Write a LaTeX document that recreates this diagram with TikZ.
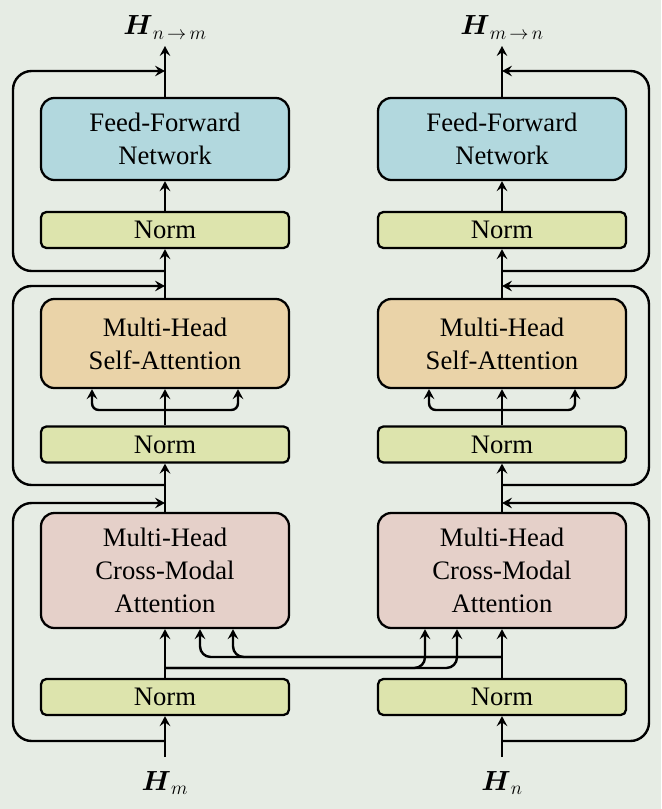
\documentclass[tikz,border=0pt]{standalone}
\usepackage{amsmath}
\usepackage{fontspec}
\setmainfont{Liberation Serif}
\usetikzlibrary{arrows.meta,calc}

\definecolor{bgcol}{RGB}{230,236,228}
\definecolor{ffncol}{RGB}{178,216,222}
\definecolor{sacol}{RGB}{234,211,168}
\definecolor{cmcol}{RGB}{229,208,201}
\definecolor{normcol}{RGB}{221,228,173}

\tikzset{every picture/.style={line width=0.75pt}}
\tikzset{
  blockbox/.style={draw, line width=1.7pt, rounded corners=10pt, minimum width=186pt,
    align=center, inner sep=0pt, font=\fontsize{20}{24.75}\selectfont},
  ffnbox/.style={blockbox, fill=ffncol, minimum height=61.5pt},
  sabox/.style={blockbox, fill=sacol, minimum height=66.75pt},
  cmbox/.style={blockbox, fill=cmcol, minimum height=86.25pt},
  normbox/.style={blockbox, fill=normcol, rounded corners=4pt, minimum height=27pt},
  hlabel/.style={anchor=base, inner sep=0pt, font=\fontsize{20}{24}\selectfont},
  flow/.style={line width=1.8pt, -{Stealth[length=7.5pt,width=8pt,inset=2.8pt]}},
}

\begin{document}
\begin{tikzpicture}[x=0.75pt,y=0.75pt,yscale=-1,xscale=1]
\useasboundingbox (0,0) rectangle (661,809);
\fill [bgcol] (0,0) rectangle (661,809);

%Rounded Rect -- left column
\draw (165,697) node [normbox] (normL1) {Norm};
\draw (165,570.5) node [cmbox] (cmaL) {Multi-Head\\Cross-Modal\\Attention};
\draw (165,444.5) node [normbox] (normL2) {Norm};
\draw (165,343.5) node [sabox] (mhsaL) {Multi-Head\\Self-Attention};
\draw (165,230) node [normbox] (normL3) {Norm};
\draw (165,139) node [ffnbox] (ffnL) {Feed-Forward\\Network};
%Rounded Rect -- right column
\draw (502,697) node [normbox] (normR1) {Norm};
\draw (502,570.5) node [cmbox] (cmaR) {Multi-Head\\Cross-Modal\\Attention};
\draw (502,444.5) node [normbox] (normR2) {Norm};
\draw (502,343.5) node [sabox] (mhsaR) {Multi-Head\\Self-Attention};
\draw (502,230) node [normbox] (normR3) {Norm};
\draw (502,139) node [ffnbox] (ffnR) {Feed-Forward\\Network};

% Text Node
\draw (165,35) node [hlabel] (outLbl) {$\boldsymbol{H}_{n\,\rightarrow\,m}$};
% Text Node
\draw (502,35) node [hlabel] (outRbl) {$\boldsymbol{H}_{m\,\rightarrow\,n}$};
% Text Node
\draw (165,790) node [hlabel] (inLbl) {$\boldsymbol{H}_{m}$};
% Text Node
\draw (502,790) node [hlabel] (inRbl) {$\boldsymbol{H}_{n}$};

%Points on the main lines
\coordinate (inL) at (165,757);   \coordinate (inR) at (502,757);
\coordinate (outL) at (165,46);   \coordinate (outR) at (502,46);
\coordinate (edgeL) at (13,0);    \coordinate (edgeR) at (649,0);
\coordinate (brL1) at (165,741);  \coordinate (mrgL1) at (165,503);
\coordinate (brL2) at (165,485);  \coordinate (mrgL2) at (165,286);
\coordinate (brL3) at (165,271);  \coordinate (mrgL3) at (165,71);
\coordinate (brR1) at (502,741);  \coordinate (mrgR1) at (502,503);
\coordinate (brR2) at (502,485);  \coordinate (mrgR2) at (502,286);
\coordinate (brR3) at (502,271);  \coordinate (mrgR3) at (502,71);
\coordinate (splL) at (165,410);  \coordinate (splR) at (502,410);
\coordinate (crL) at (165,668);   \coordinate (crR) at (502,657);

%Straight Lines -- left column
\draw [flow] (inL) -- (normL1.south);
\draw [flow] (normL1.north) -- (cmaL.south);
\draw [flow] (cmaL.north) -- (normL2.south);
\draw [flow] (normL2.north) -- (mhsaL.south);
\draw [flow] (mhsaL.north) -- (normL3.south);
\draw [flow] (normL3.north) -- (ffnL.south);
\draw [flow] (ffnL.north) -- (outL);
%Straight Lines -- right column
\draw [flow] (inR) -- (normR1.south);
\draw [flow] (normR1.north) -- (cmaR.south);
\draw [flow] (cmaR.north) -- (normR2.south);
\draw [flow] (normR2.north) -- (mhsaR.south);
\draw [flow] (mhsaR.north) -- (normR3.south);
\draw [flow] (normR3.north) -- (ffnR.south);
\draw [flow] (ffnR.north) -- (outR);

%Residual loops
\draw [flow, rounded corners=14] (brL1) -| (edgeL |- mrgL1) -- (mrgL1);
\draw [flow, rounded corners=14] (brL2) -| (edgeL |- mrgL2) -- (mrgL2);
\draw [flow, rounded corners=14] (brL3) -| (edgeL |- mrgL3) -- (mrgL3);
\draw [flow, rounded corners=14] (brR1) -| (edgeR |- mrgR1) -- (mrgR1);
\draw [flow, rounded corners=14] (brR2) -| (edgeR |- mrgR2) -- (mrgR2);
\draw [flow, rounded corners=14] (brR3) -| (edgeR |- mrgR3) -- (mrgR3);

%Query, key, value splits
\draw [flow, rounded corners=5] (splL) -| ($(mhsaL.south)+(-73,0)$);
\draw [flow, rounded corners=5] (splL) -| ($(mhsaL.south)+(73,0)$);
\draw [flow, rounded corners=5] (splR) -| ($(mhsaR.south)+(-73,0)$);
\draw [flow, rounded corners=5] (splR) -| ($(mhsaR.south)+(73,0)$);

%Cross-modal links
\draw [flow, rounded corners=8] (crL) -| ($(cmaR.south)+(-77,0)$);
\draw [flow, rounded corners=8] (crL) -| ($(cmaR.south)+(-45,0)$);
\draw [flow, rounded corners=8] (crR) -| ($(cmaL.south)+(35,0)$);
\draw [flow, rounded corners=8] (crR) -| ($(cmaL.south)+(68,0)$);

\end{tikzpicture}
\end{document}
